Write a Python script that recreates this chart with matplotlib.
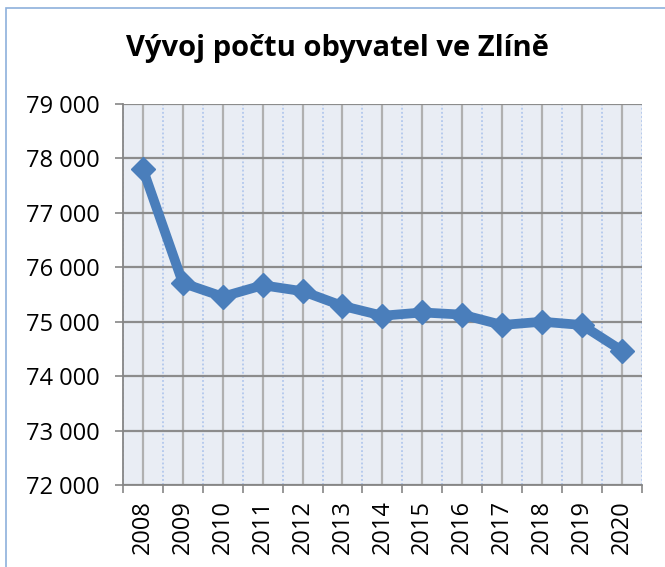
import numpy as np
import matplotlib.pyplot as plt
from matplotlib.patches import Rectangle
from matplotlib.ticker import FuncFormatter

# data
years = ['2008', '2009', '2010', '2011', '2012', '2013', '2014',
         '2015', '2016', '2017', '2018', '2019', '2020']
population = [77800, 75710, 75460, 75670, 75560, 75290, 75110,
              75170, 75130, 74940, 75000, 74940, 74470]
y_ticks = [72000, 73000, 74000, 75000, 76000, 77000, 78000, 79000]

plt.rcParams['font.family'] = ['Open Sans', 'DejaVu Sans']

fig = plt.figure(figsize=(6.65, 5.67), dpi=100)
ax = fig.add_axes([0.185, 0.1446, 0.780, 0.6720])

x = np.arange(len(years))
ax.set_facecolor('#E9EDF4')

# line with diamond markers
ax.plot(x, population, color='#4A7EBB', linewidth=7, marker='D',
        markersize=12, zorder=3, solid_joinstyle='miter')

# x axis: ticks on category boundaries, labels at centres
ax.set_xlim(-0.5, len(years) - 0.5)
ax.set_xticks(np.arange(-0.5, len(years), 1))
ax.set_xticklabels([])
ax.set_xticks(x, minor=True)
ax.set_xticklabels(years, minor=True, rotation=90, fontsize=17)
ax.tick_params(axis='x', which='major', length=6, width=1.2, color='#868686')
ax.tick_params(axis='x', which='minor', length=0, pad=11)

# y axis
ax.set_ylim(72000, 79000)
ax.set_yticks(y_ticks)
ax.yaxis.set_major_formatter(FuncFormatter(lambda v, p: f'{int(v):,}'.replace(',', ' ')))
ax.tick_params(axis='y', length=6, width=1.2, color='#868686', labelsize=17, pad=11)

# grid
ax.grid(axis='y', which='major', color='#8C8C8C', linewidth=1.6, zorder=1)
ax.grid(axis='x', which='minor', color='#B0B0B0', linewidth=1.6, zorder=1)
ax.grid(axis='x', which='major', color='#A9C1EC', linewidth=1.1,
        linestyle=(0, (1.2, 1.5)), zorder=1)
ax.set_axisbelow(True)

for side in ['top', 'right']:
    ax.spines[side].set_visible(False)
for side in ['left', 'bottom']:
    ax.spines[side].set_color('#868686')
    ax.spines[side].set_linewidth(1.3)

fig.text(0.508, 0.915, 'Vývoj počtu obyvatel ve Zlíně', ha='center', va='center',
         fontsize=21, fontweight='bold')

# outer chart border
fig.patches.append(Rectangle((6 / 665, -0.1), 1.2, 1 - 8 / 567 + 0.1,
                             transform=fig.transFigure, fill=False,
                             edgecolor='#8DB0DC', linewidth=1.2))

plt.savefig('out.png', dpi=100)
